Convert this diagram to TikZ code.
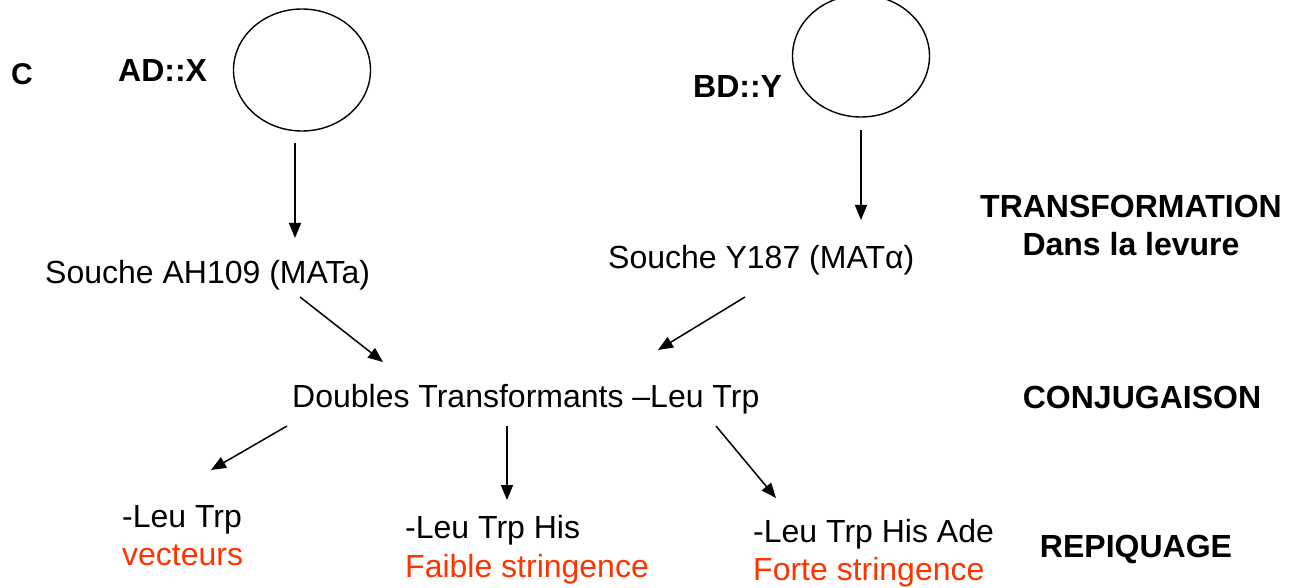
\documentclass[tikz,border=0pt]{standalone}
\usepackage{fontspec}
\setmainfont{Liberation Sans}
\usetikzlibrary{arrows.meta,shapes.geometric}
\definecolor{redtxt}{RGB}{255,51,0}
\tikzset{
  txt/.style={anchor=base west,inner sep=0pt,font=\fontsize{32}{38}\selectfont},
  lbl/.style={anchor=base,inner sep=0pt,font=\fontsize{32}{38}\selectfont\bfseries},
  clbl/.style={anchor=base west,inner sep=0pt,font=\fontsize{30}{36}\selectfont\bfseries},
  red/.style={text=redtxt},
  arr/.style={line width=1.5pt,-{Triangle[length=15pt,width=12pt]}},
  plasmid/.style={ellipse,draw,line width=1.4pt,inner sep=0pt,minimum width=137pt,minimum height=122pt}
}
\begin{document}
\begin{tikzpicture}[x=1pt,y=-1pt]
\useasboundingbox (0,0) rectangle (1298,588);
% labels
\node[clbl] (lblC) at (11,85) {C};
\node[lbl,anchor=base west] (adx) at (118,82) {AD::X};
\node[lbl,anchor=base west] (bdy) at (693,98) {BD::Y};
\node[plasmid] (p1) at (302,70) {};
\node[plasmid] (p2) at (861,56) {};
% strains
\node[txt] (s1) at (45,283) {Souche AH109 (MATa)};
\node[txt] (s2) at (608,268) {Souche Y187 (MATα)};
\node[txt] (dt) at (292,407) {Doubles Transformants \textendash Leu Trp};
% right labels
\node[lbl] (tr) at (1131,218) {TRANSFORMATION};
\node[lbl] (dl) at (1131,255) {Dans la levure};
\node[lbl] (cj) at (1142,408) {CONJUGAISON};
\node[lbl] (rp) at (1136,557) {REPIQUAGE};
% bottom
\node[txt] (m1) at (122,527) {-Leu Trp};
\node[txt,red] (m1b) at (122,565) {vecteurs};
\node[txt] (m2) at (405,538) {-Leu Trp His};
\node[txt,red] (m2b) at (405,577) {Faible stringence};
\node[txt] (m3) at (753,542) {-Leu Trp His Ade};
\node[txt,red] (m3b) at (753,580) {Forte stringence};
% arrow endpoints
\coordinate (a1s) at (295,143); \coordinate (a1e) at (295,238);
\coordinate (a2s) at (861,130); \coordinate (a2e) at (861,220);
\coordinate (a3s) at (300,297); \coordinate (a3e) at (383,362);
\coordinate (a4s) at (745,297); \coordinate (a4e) at (658,350);
\coordinate (a5s) at (287,426); \coordinate (a5e) at (211,470);
\coordinate (a6s) at (507,426); \coordinate (a6e) at (507,500);
\coordinate (a7s) at (716,426); \coordinate (a7e) at (776,498);
\draw[arr] (a1s) -- (a1e);
\draw[arr] (a2s) -- (a2e);
\draw[arr] (a3s) -- (a3e);
\draw[arr] (a4s) -- (a4e);
\draw[arr] (a5s) -- (a5e);
\draw[arr] (a6s) -- (a6e);
\draw[arr] (a7s) -- (a7e);
\end{tikzpicture}
\end{document}
